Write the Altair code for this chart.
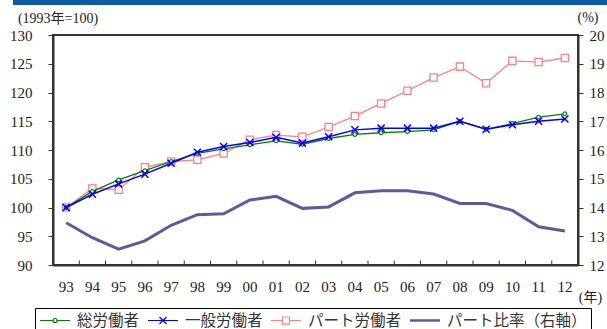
import altair as alt
import pandas as pd

# --- data -------------------------------------------------------------
years = ["93", "94", "95", "96", "97", "98", "99", "00", "01", "02",
         "03", "04", "05", "06", "07", "08", "09", "10", "11", "12"]

# wage index, 1993 = 100
total = [100.0, 102.8, 104.8, 106.4, 108.0, 109.4, 110.2, 110.9, 111.6, 111.0,
         112.0, 112.7, 113.0, 113.2, 113.5, 115.0, 113.6, 114.6, 115.7, 116.3]
general = [100.0, 102.3, 104.1, 105.8, 107.7, 109.6, 110.6, 111.3, 112.2, 111.2,
           112.3, 113.5, 113.8, 113.8, 113.8, 115.0, 113.6, 114.4, 115.0, 115.4]
part = [100.0, 103.3, 103.1, 107.0, 108.0, 108.3, 109.4, 111.8, 112.6, 112.3,
        114.0, 115.9, 118.1, 120.3, 122.6, 124.5, 121.6, 125.5, 125.3, 126.0]

# share of part-time workers (%), right axis
ratio = [13.47, 12.95, 12.55, 12.84, 13.38, 13.75, 13.78, 14.26, 14.39, 13.97,
         14.02, 14.51, 14.58, 14.58, 14.47, 14.14, 14.14, 13.90, 13.33, 13.18]

names = ["総労働者", "一般労働者", "パート労働者", "パート比率（右軸）"]
colors = ["#008000", "#0000FF", "#FF8080", "#5B5B9F"]

# legend glyphs: line segment plus marker, drawn to the right of the symbol centre
legend_paths = [
    "M-1,0H0.73M1.27,0H3M1.27,0A0.27,0.27 0 1,1 0.73,0A0.27,0.27 0 1,1 1.27,0",
    "M-1,0H3M0.53,-0.47L1.47,0.47M0.53,0.47L1.47,-0.47",
    "M-1,0H0.53M1.47,0H3M0.53,-0.47H1.47V0.47H0.53Z",
    "M-1,-0.1H3M-1,0H3M-1,0.1H3",
]

index_df = pd.DataFrame({
    "year": years * 3,
    "value": total + general + part,
    "series": [names[0]] * 20 + [names[1]] * 20 + [names[2]] * 20,
})
ratio_df = pd.DataFrame({"year": years, "value": ratio, "series": names[3]})

# --- shared styles ----------------------------------------------------
SERIF = "Liberation Serif, Noto Sans CJK JP"
SANS = "Noto Sans CJK JP"
DARK = "#333333"

x_scale = alt.Scale(type="band", domain=years, paddingInner=0, paddingOuter=0)
x_axis = alt.Axis(
    orient="bottom", ticks=False, labelAngle=0, labelPadding=14,
    labelFont=SERIF, labelFontSize=15, labelColor="#222",
    domainColor=DARK, domainWidth=2, grid=False,
    title="(年)", titleAngle=0, titleX=537, titleY=32,
    titleAlign="center", titleBaseline="middle",
    titleFont=SERIF, titleFontSize=14, titleFontWeight="normal", titleColor="#222",
)
x_enc = alt.X("year:N", sort=years, scale=x_scale, axis=x_axis)

y_left = alt.Y(
    "value:Q",
    scale=alt.Scale(domain=[90, 130], nice=False, zero=False),
    axis=alt.Axis(
        orient="left", values=list(range(90, 131, 5)), grid=False,
        tickSize=5, tickColor=DARK, domainColor=DARK, domainWidth=2,
        labelFont=SERIF, labelFontSize=15, labelColor="#222", labelPadding=16,
        title="(1993年=100)", titleAngle=0, titleX=4.5, titleY=-17,
        titleAlign="center", titleBaseline="middle",
        titleFont=SERIF, titleFontSize=14, titleFontWeight="normal", titleColor="#222",
    ),
)
y_right = alt.Y(
    "value:Q",
    scale=alt.Scale(domain=[12, 20], nice=False, zero=False),
    axis=alt.Axis(
        orient="right", values=list(range(12, 21)), grid=False,
        tickSize=5, tickColor=DARK, domainColor=DARK, domainWidth=2,
        labelFont=SERIF, labelFontSize=15, labelColor="#222", labelPadding=6,
        title="(%)", titleAngle=0, titleX=9.5, titleY=-18,
        titleAlign="center", titleBaseline="middle",
        titleFont=SERIF, titleFontSize=14, titleFontWeight="normal", titleColor="#222",
    ),
)

base = alt.Chart(index_df)

# header band across the top
banner = base.mark_rect(color="#0E5CA8").encode(
    x=alt.value(-40), x2=alt.value(554), y=alt.value(-35), y2=alt.value(-30)
)

# inward ticks on the category boundaries of the year axis
boundary_ticks = base.transform_filter(alt.datum.series == names[0]).mark_rule(
    color=DARK, strokeWidth=1
).encode(
    x=alt.X("year:N", sort=years, scale=x_scale, axis=x_axis, bandPosition=0),
    y=alt.value(230), y2=alt.value(225.5),
)


def series_layers(name, color, width, marker):
    data = base.transform_filter(alt.datum.series == name)
    line = data.mark_line(color=color, strokeWidth=width).encode(x=x_enc, y=y_left)
    pts = data.mark_point(opacity=1, **marker).encode(x=x_enc, y=y_left)
    return [line, pts]


pink_layers = series_layers(
    names[2], colors[2], 1.3,
    dict(shape="square", size=52, filled=True, fill="white", stroke=colors[2], strokeWidth=1.3),
)
green_layers = series_layers(
    names[0], colors[0], 1.3,
    dict(shape="circle", size=14, filled=True, fill="white", stroke=colors[0], strokeWidth=1.2),
)
blue_layers = series_layers(
    names[1], colors[1], 1.5,
    dict(shape="M-1,-1L1,1M-1,1L1,-1", size=50, filled=False, stroke=colors[1], strokeWidth=1.5),
)

legend_props = dict(
    orient="none", legendX=-18, legendY=273, direction="horizontal", columns=4,
    title=None, strokeColor="#000", padding=4, symbolSize=225,
    symbolStrokeWidth=1.2, symbolOpacity=1, labelOffset=21, columnPadding=5,
    labelFont=SANS, labelFontSize=15.5, labelColor="#333",
)

# legend only: no rows are drawn, the entries come from the fixed scale domain
legend_layer = base.transform_filter("false").mark_point(
    filled=False, opacity=1, size=225, strokeWidth=1.2
).encode(
    color=alt.Color("series:N", scale=alt.Scale(domain=names, range=colors),
                    legend=alt.Legend(**legend_props)),
    shape=alt.Shape("series:N", scale=alt.Scale(domain=names, range=legend_paths),
                    legend=alt.Legend(**legend_props)),
)

left = alt.layer(
    banner, boundary_ticks, *pink_layers, *green_layers, *blue_layers, legend_layer
)

right = alt.Chart(ratio_df).mark_line(color=colors[3], strokeWidth=3).encode(
    x=x_enc, y=y_right
)

chart = (
    alt.layer(left, right)
    .resolve_scale(y="independent")
    .properties(
        width=525, height=230,
        autosize=alt.AutoSizeParams(type="none"),
        padding={"left": 53, "top": 35, "right": 29, "bottom": 64},
        background="white",
    )
    .configure_view(stroke=DARK, strokeWidth=2)
)

chart.save("out.html", embed_options={"renderer": "svg", "actions": False})
